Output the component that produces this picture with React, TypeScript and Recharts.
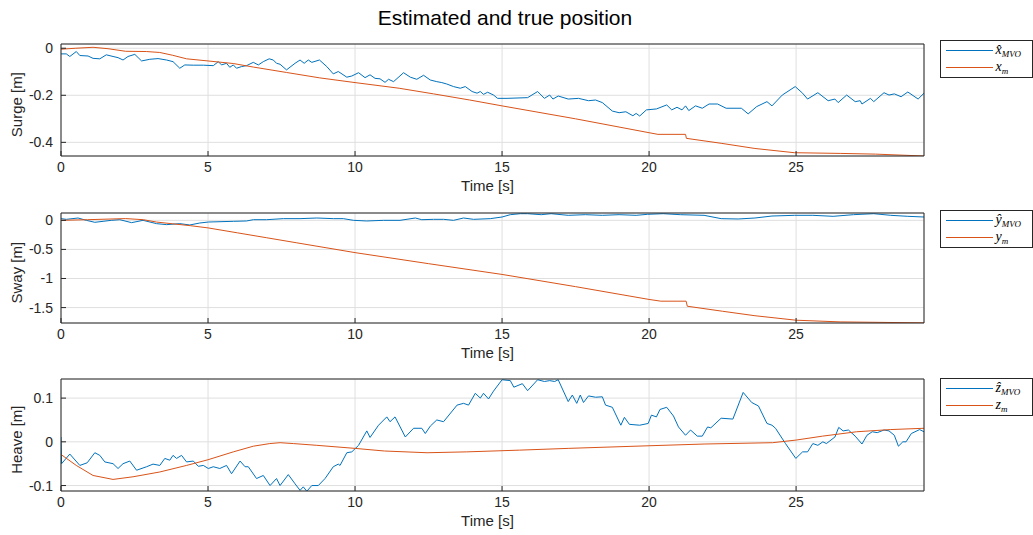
import React from 'react';
import { LineChart, Line, XAxis, YAxis, CartesianGrid, Legend } from 'recharts';

type Pt = [number, number];

const timeTicks = [0, 5, 10, 15, 20, 25];
const timeMax = 29.35;

const surgeTicks = [-0.4, -0.2, 0];
const swayTicks = [-1.5, -1, -0.5, 0];
const heaveTicks = [-0.1, 0, 0.1];

// estimated surge (x hat MVO)
const surgeEst: Pt[] = [
    [0, -0.024], [0.18, -0.024], [0.3, -0.035], [0.52, -0.014], [0.64, -0.031], [0.92, -0.033], [1.09, -0.043],
    [1.32, -0.045], [1.54, -0.028], [1.77, -0.035], [1.94, -0.04], [2.11, -0.05], [2.28, -0.035], [2.51, -0.026],
    [2.74, -0.054], [3.02, -0.047], [3.3, -0.044], [3.59, -0.05], [3.81, -0.057], [4.04, -0.085], [4.21, -0.071],
    [4.5, -0.072], [4.84, -0.072], [5.18, -0.074], [5.35, -0.057], [5.46, -0.071], [5.63, -0.064], [5.74, -0.081],
    [5.86, -0.071], [5.97, -0.085], [6.14, -0.078], [6.31, -0.074], [6.54, -0.06], [6.71, -0.071], [6.88, -0.057],
    [7.08, -0.045], [7.22, -0.05], [7.33, -0.064], [7.45, -0.068], [7.67, -0.092], [7.96, -0.064], [8.13, -0.05],
    [8.27, -0.064], [8.41, -0.05], [8.53, -0.06], [8.79, -0.05], [9.04, -0.078], [9.26, -0.109], [9.43, -0.099],
    [9.72, -0.123], [9.89, -0.118], [10.12, -0.104], [10.34, -0.125], [10.51, -0.113], [10.68, -0.128], [10.85, -0.13],
    [11.02, -0.145], [11.14, -0.132], [11.31, -0.142], [11.65, -0.104], [11.88, -0.123], [12.1, -0.132], [12.33, -0.115],
    [12.56, -0.135], [12.78, -0.142], [12.95, -0.146], [13.12, -0.152], [13.35, -0.163], [13.58, -0.17], [13.75, -0.163],
    [13.98, -0.184], [14.15, -0.191], [14.26, -0.184], [14.37, -0.196], [14.51, -0.187], [14.71, -0.199], [14.85, -0.213],
    [15.17, -0.213], [15.87, -0.21], [16.21, -0.184], [16.44, -0.213], [16.62, -0.199], [16.73, -0.216], [16.91, -0.203],
    [17.25, -0.216], [17.6, -0.213], [17.94, -0.223], [18.18, -0.22], [18.41, -0.231], [18.75, -0.267], [18.98, -0.274],
    [19.21, -0.27], [19.45, -0.287], [19.56, -0.277], [19.68, -0.288], [19.91, -0.262], [20.25, -0.258], [20.6, -0.241],
    [20.77, -0.262], [20.95, -0.251], [21.12, -0.262], [21.24, -0.245], [21.35, -0.265], [21.58, -0.245], [21.81, -0.255],
    [22.04, -0.237], [22.33, -0.237], [22.62, -0.255], [23.14, -0.255], [23.37, -0.279], [23.66, -0.248], [24.01, -0.227],
    [24.18, -0.245], [24.53, -0.199], [24.97, -0.163], [25.22, -0.191], [25.39, -0.216], [25.74, -0.189], [26.09, -0.223],
    [26.32, -0.216], [26.43, -0.231], [26.72, -0.199], [27.01, -0.227], [27.18, -0.223], [27.24, -0.237], [27.53, -0.213],
    [27.64, -0.227], [27.99, -0.189], [28.16, -0.199], [28.34, -0.194], [28.57, -0.206], [28.8, -0.186], [29.15, -0.216],
    [29.35, -0.191],
];

// measured surge (x_m)
const surgeTrue: Pt[] = [
    [0, -0.004], [0.5, 0.0], [1.09, 0.004], [1.6, -0.002], [2.2, -0.013], [2.9, -0.014], [3.36, -0.018], [3.8, -0.03],
    [4.27, -0.045], [5, -0.054], [5.86, -0.065], [6.54, -0.08], [7.67, -0.103], [8.8, -0.126], [10, -0.146],
    [11.5, -0.17], [12.67, -0.194], [13.9, -0.22], [15, -0.245], [17.5, -0.3], [20, -0.359], [20.3, -0.366],
    [21.24, -0.366], [21.27, -0.383], [22.45, -0.404], [23.6, -0.426], [24.94, -0.444], [26.5, -0.447], [27.7, -0.45],
    [29.35, -0.458],
];

// estimated sway (y hat MVO)
const swayEst: Pt[] = [
    [0, 0.029], [0.18, 0.017], [0.58, 0.04], [0.86, 0], [1.15, -0.034], [1.43, -0.017], [1.71, 0], [2.0, 0.011],
    [2.4, -0.04], [2.79, 0], [3.25, -0.057], [3.59, -0.074], [4.04, -0.057], [4.38, -0.08], [4.72, -0.046], [5.01, -0.029],
    [5.86, -0.017], [6.31, -0.011], [6.54, 0.011], [6.99, 0.011], [7.56, 0.029], [8.13, 0.029], [8.7, 0.04], [9.26, 0.029],
    [9.6, 0.029], [9.95, 0], [10.4, -0.011], [10.97, 0], [11.53, 0], [12.05, 0.04], [12.27, 0.011], [12.67, 0.017],
    [13.01, 0.017], [13.35, 0], [13.69, 0.04], [14.03, 0.017], [14.6, 0.029], [15.0, 0.057], [15.28, 0.097], [15.62, 0.114],
    [15.87, 0.114], [16.33, 0.097], [16.67, 0.114], [17.25, 0.086], [17.83, 0.097], [18.41, 0.086], [18.98, 0.097],
    [19.56, 0.086], [19.94, 0.103], [20.48, 0.114], [21.06, 0.097], [21.87, 0.086], [22.45, 0.029], [23.03, 0.023],
    [23.6, 0.04], [24.18, 0.074], [24.94, 0.086], [25.57, 0.086], [26.26, 0.069], [26.95, 0.097], [27.64, 0.114],
    [28.22, 0.086], [28.8, 0.069], [29.35, 0.057],
];

// measured sway (y_m)
const swayTrue: Pt[] = [
    [0, 0], [0.9, 0.011], [2.2, 0.03], [2.8, 0.011], [3.25, -0.03], [3.8, -0.06], [4.4, -0.092], [5, -0.13],
    [6, -0.215], [7, -0.3], [8, -0.385], [10, -0.555], [12.5, -0.745], [15, -0.93], [17.5, -1.14], [20, -1.36],
    [20.4, -1.39], [21.26, -1.39], [21.3, -1.477], [22.5, -1.563], [23.6, -1.64], [25, -1.717], [26.5, -1.746],
    [29.35, -1.763],
];

// estimated heave (z hat MVO)
const heaveEst: Pt[] = [
    [0, 0.011], [0.02, -0.05], [0.3, -0.028], [0.64, -0.054], [0.89, -0.048], [1.15, -0.025], [1.32, -0.031],
    [1.49, -0.046], [1.77, -0.05], [1.94, -0.061], [2.11, -0.05], [2.34, -0.044], [2.57, -0.065], [2.91, -0.057],
    [3.13, -0.051], [3.36, -0.054], [3.53, -0.038], [3.7, -0.042], [3.81, -0.031], [3.93, -0.038], [4.1, -0.031],
    [4.27, -0.046], [4.5, -0.044], [4.67, -0.056], [4.84, -0.054], [5.01, -0.061], [5.18, -0.057], [5.4, -0.061],
    [5.63, -0.054], [5.8, -0.073], [6.09, -0.044], [6.26, -0.057], [6.37, -0.057], [6.65, -0.084], [6.88, -0.077],
    [7.11, -0.1], [7.33, -0.084], [7.45, -0.1], [7.73, -0.075], [7.96, -0.096], [8.13, -0.111], [8.24, -0.103],
    [8.36, -0.113], [8.53, -0.1], [8.75, -0.1], [8.98, -0.084], [9.26, -0.057], [9.43, -0.051], [9.49, -0.054],
    [9.72, -0.025], [9.89, -0.023], [10.12, -0.008], [10.4, 0.025], [10.51, 0.01], [10.8, 0.038], [11.08, 0.057],
    [11.19, 0.046], [11.36, 0.057], [11.71, 0.011], [11.99, 0.031], [12.27, 0.031], [12.39, 0.019], [12.56, 0.036],
    [12.78, 0.05], [13.01, 0.046], [13.47, 0.084], [13.69, 0.088], [13.86, 0.084], [14.09, 0.111], [14.26, 0.1],
    [14.37, 0.111], [14.54, 0.098], [14.71, 0.116], [15.0, 0.142], [15.28, 0.14], [15.4, 0.125], [15.69, 0.133],
    [15.87, 0.117], [16.21, 0.142], [16.44, 0.138], [16.62, 0.14], [16.79, 0.138], [16.91, 0.142], [17.25, 0.092],
    [17.39, 0.107], [17.54, 0.088], [17.66, 0.107], [17.77, 0.09], [17.94, 0.105], [18.18, 0.102], [18.41, 0.103],
    [18.52, 0.084], [18.75, 0.079], [19.04, 0.038], [19.16, 0.056], [19.33, 0.04], [19.68, 0.038], [19.97, 0.042],
    [20.08, 0.061], [20.25, 0.057], [20.37, 0.074], [20.6, 0.079], [20.83, 0.059], [21.0, 0.034], [21.24, 0.015],
    [21.41, 0.027], [21.64, 0.013], [21.81, 0.013], [21.99, 0.034], [22.1, 0.032], [22.45, 0.054], [22.85, 0.052],
    [23.2, 0.113], [23.49, 0.09], [23.72, 0.082], [24.01, 0.042], [24.18, 0.038], [24.3, 0.031], [24.64, -0.004],
    [24.99, -0.038], [25.22, -0.023], [25.39, -0.023], [25.57, -0.004], [25.74, -0.008], [25.91, 0], [26.03, -0.004],
    [26.32, 0.011], [26.45, 0.033], [26.6, 0.025], [26.78, 0.027], [27.01, 0.013], [27.24, -0.005], [27.41, 0.015],
    [27.59, 0.023], [27.76, 0.021], [27.99, 0.027], [28.16, 0.025], [28.34, 0.015], [28.48, -0.01], [28.63, 0],
    [28.74, 0], [28.92, 0.019], [29.2, 0.028], [29.35, 0.023],
];

// measured heave (z_m)
const heaveTrue: Pt[] = [
    [0, -0.029], [0.52, -0.054], [1.09, -0.077], [1.77, -0.086], [2.45, -0.08], [3.36, -0.069], [4.27, -0.054],
    [5, -0.041], [5.86, -0.023], [6.54, -0.01], [7.1, -0.004], [7.45, -0.002], [7.9, -0.004], [8.7, -0.008],
    [10, -0.015], [11, -0.021], [12.45, -0.025], [13.8, -0.023], [15.6, -0.019], [17.25, -0.015], [20, -0.009],
    [21.9, -0.005], [24.2, -0.002], [25, 0.004], [25.9, 0.013], [27.06, 0.023], [28.2, 0.028], [29.35, 0.031],
];

const BLUE = '#0072BD';
const ORANGE = '#D95319';
const AXIS = '#262626';
const WIDTH = 1033;
const PLOT_LEFT = 61;
const PLOT_RIGHT = 924;

const toRows = (pts: Pt[]) => pts.map(([t, v]) => ({ t, v }));

const MathLabel = ({ text }: { text: string }) => {
    const [base, sub] = text.split('_');
    return (
        <span style={{ fontFamily: '"Liberation Serif", "DejaVu Serif", serif', fontStyle: 'italic', fontSize: 14, color: '#000' }}>
            {base}
            {sub && <sub style={{ fontSize: 9, verticalAlign: -3 }}>{sub}</sub>}
        </span>
    );
};

const legendContent = (shift: number) => (props: any) => (
    <div style={{ marginLeft: 14.5, marginTop: shift, width: 93, height: 38, boxSizing: 'border-box', border: `1px solid ${AXIS}`, background: '#fff', paddingTop: 1 }}>
        {(props.payload || []).map((entry: any) => (
            <div key={entry.value} style={{ display: 'flex', alignItems: 'center', height: 17 }}>
                <div style={{ width: 47, borderTop: `1px solid ${entry.color}`, marginLeft: 5, marginRight: 3 }} />
                <MathLabel text={entry.value} />
            </div>
        ))}
    </div>
);

interface PanelProps {
    top: number;
    height: number;
    marginTop: number;
    marginBottom: number;
    legendShift: number;
    est: Pt[];
    truth: Pt[];
    estName: string;
    truthName: string;
    yLabel: string;
    yDomain: [number, number];
    yTicks: number[];
}

const Panel: React.FC<PanelProps> = (p) => {
    const plotTop = p.marginTop;
    const plotBottom = p.height - p.marginBottom - 40;
    const yMid = (plotTop + plotBottom) / 2 + 4.7;
    const xMid = (PLOT_LEFT + PLOT_RIGHT) / 2 - 5;
    return (
        <div style={{ position: 'absolute', left: 0, top: p.top }}>
            <LineChart width={WIDTH} height={p.height} margin={{ top: p.marginTop - 1, right: 0, bottom: p.marginBottom, left: 0 }}>
                <CartesianGrid stroke="#dfdfdf" />
                <XAxis
                    type="number"
                    dataKey="t"
                    domain={[0, timeMax]}
                    ticks={timeTicks}
                    allowDataOverflow
                    height={40}
                    stroke={AXIS}
                    tickSize={-5}
                    tickMargin={11}
                    tick={{ fill: AXIS, fontSize: 14 }}
                    label={{
                        content: () => (
                            <text x={xMid} y={plotBottom + 34.7} textAnchor="middle" fill={AXIS} fontSize={15}>Time [s]</text>
                        ),
                    }}
                />
                <XAxis
                    xAxisId="top"
                    orientation="top"
                    type="number"
                    domain={[0, timeMax]}
                    ticks={timeTicks}
                    allowDataOverflow
                    height={1}
                    stroke={AXIS}
                    tickSize={-5}
                    tick={false}
                />
                <YAxis
                    type="number"
                    domain={p.yDomain}
                    ticks={p.yTicks}
                    allowDataOverflow
                    width={PLOT_LEFT}
                    stroke={AXIS}
                    tickSize={-5}
                    tickMargin={13}
                    tick={{ fill: AXIS, fontSize: 14 }}
                    label={{
                        content: () => (
                            <text x={22.4} y={yMid} transform={`rotate(-90 22.4 ${yMid})`} textAnchor="middle" fill={AXIS} fontSize={15}>{p.yLabel}</text>
                        ),
                    }}
                />
                <YAxis
                    yAxisId="right"
                    orientation="right"
                    type="number"
                    domain={p.yDomain}
                    ticks={p.yTicks}
                    allowDataOverflow
                    width={1}
                    stroke={AXIS}
                    tickSize={-5}
                    tick={false}
                />
                <Legend
                    layout="vertical"
                    align="right"
                    verticalAlign="top"
                    width={108}
                    wrapperStyle={{ width: 108, marginTop: 1 }}
                    itemSorter={(item: any) => (item.color === BLUE ? 0 : 1)}
                    content={legendContent(p.legendShift)}
                />
                <Line data={toRows(p.est)} dataKey="v" name={p.estName} type="linear" stroke={BLUE} strokeWidth={1} dot={false} isAnimationActive={false} />
                <Line data={toRows(p.truth)} dataKey="v" name={p.truthName} type="linear" stroke={ORANGE} strokeWidth={1} dot={false} isAnimationActive={false} />
            </LineChart>
        </div>
    );
};

const App: React.FC = () => {
    return (
        <div style={{ position: 'absolute', left: 0, top: 0, width: WIDTH, height: 535, background: '#fff', fontFamily: '"Liberation Sans", Arial, sans-serif' }}>
            <svg width={WIDTH} height={40} style={{ position: 'absolute', left: 0, top: 0 }}>
                <text x={505} y={25.3} textAnchor="middle" fontSize={21} fill="#000">Estimated and true position</text>
            </svg>
            <Panel top={0} height={200} marginTop={44} marginBottom={4} legendShift={-4}
                est={surgeEst} truth={surgeTrue} estName="x̂_MVO" truthName="x_m"
                yLabel="Surge [m]" yDomain={[-0.458, 0.018]} yTicks={surgeTicks} />
            <Panel top={200} height={170} marginTop={13} marginBottom={7} legendShift={-3}
                est={swayEst} truth={swayTrue} estName="ŷ_MVO" truthName="y_m"
                yLabel="Sway [m]" yDomain={[-1.765, 0.126]} yTicks={swayTicks} />
            <Panel top={370} height={165} marginTop={9} marginBottom={4} legendShift={-1}
                est={heaveEst} truth={heaveTrue} estName="ẑ_MVO" truthName="z_m"
                yLabel="Heave [m]" yDomain={[-0.1125, 0.1437]} yTicks={heaveTicks} />
        </div>
    );
};

export default App;
